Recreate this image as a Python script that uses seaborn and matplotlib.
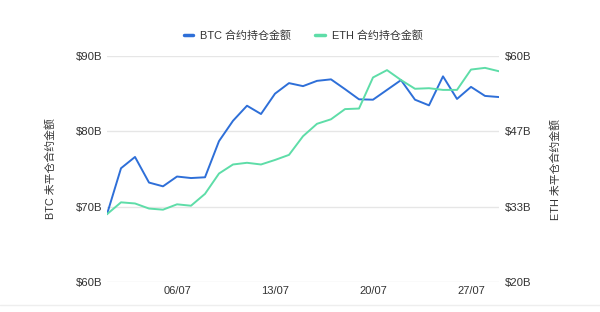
import matplotlib
matplotlib.use("Agg")
import matplotlib.pyplot as plt
import seaborn as sns
import pandas as pd
from matplotlib.lines import Line2D

dates = [f"{d:02d}/07" for d in range(1, 30)]
btc_oi = [69.0, 75.1, 76.6, 73.2, 72.7, 74.0, 73.8, 73.9, 78.7, 81.4,
          83.4, 82.3, 85.0, 86.4, 86.0, 86.7, 86.9, 85.6, 84.25, 84.2,
          85.5, 86.8, 84.2, 83.45, 87.3, 84.3, 85.9, 84.7, 84.55]
eth_oi = [32.0, 34.1, 33.9, 33.0, 32.8, 33.75, 33.5, 35.6, 39.2, 40.8,
          41.1, 40.8, 41.6, 42.5, 45.8, 48.0, 48.8, 50.6, 50.7, 56.2,
          57.5, 55.75, 54.2, 54.3, 54.0, 54.0, 57.6, 57.9, 57.3]
left_ticks = [60, 70, 80, 90]
right_ticks = [20, 33.333, 46.667, 60]
right_labels = ["$20B", "$33B", "$47B", "$60B"]
x_tick_labels = ["06/07", "13/07", "20/07", "27/07"]
btc_name = "BTC 合约持仓金额"
eth_name = "ETH 合约持仓金额"
left_label = "BTC 未平仓合约金额"
right_label = "ETH 未平仓合约金额"

BLUE = "#2E6FD8"
GREEN = "#5EDDA8"
TXT = "#333333"

sns.set_theme(style="white")
plt.rcParams["font.family"] = ["Liberation Sans", "Noto Sans CJK SC", "DejaVu Sans"]

df = pd.DataFrame({"idx": range(len(dates)), "date": dates, "btc": btc_oi, "eth": eth_oi})

fig = plt.figure(figsize=(6.0, 3.12), dpi=100)
ax = fig.add_axes([107/600, 1-282/312, (499-107)/600, (282-56)/312])
ax2 = ax.twinx()

sns.lineplot(data=df, x="idx", y="btc", ax=ax, color=BLUE, linewidth=1.4)
sns.lineplot(data=df, x="idx", y="eth", ax=ax2, color=GREEN, linewidth=1.4)

ax.set_xlim(0, len(dates) - 1)
ax.set_ylim(60, 90)
ax2.set_ylim(20, 60)
ax.set_yticks(left_ticks)
ax.set_yticklabels([f"${v}B" for v in left_ticks])
ax2.set_yticks(right_ticks)
ax2.set_yticklabels(right_labels)

pos = [dates.index(l) for l in x_tick_labels]
ax.set_xticks(pos)
ax.set_xticklabels(x_tick_labels)

ax.grid(axis="y", color="#E6E6E6", linewidth=1.0)
ax.set_axisbelow(True)
for a in (ax, ax2):
    for s in a.spines.values():
        s.set_visible(False)
    a.tick_params(length=0, labelsize=8.2, colors=TXT)
ax.tick_params(axis="y", pad=3.5)
ax2.tick_params(axis="y", pad=4.5)
ax.tick_params(axis="x", pad=3, labelsize=8)
ax.set_xlabel("")
ax.set_ylabel(left_label, fontsize=7.8, color=TXT, labelpad=14)
ax2.set_ylabel(right_label, fontsize=7.8, color=TXT, labelpad=13)
ax2.grid(False)

handles = [Line2D([0], [0], color=BLUE, lw=2.5), Line2D([0], [0], color=GREEN, lw=2.5)]
fig.legend(handles, [btc_name, eth_name], loc="center", bbox_to_anchor=(0.505, 1-35/312),
           ncol=2, frameon=False, fontsize=7.9, handlelength=0.9, handletextpad=0.6,
           columnspacing=2.2, labelcolor=TXT)

fig.add_artist(Line2D([0, 1], [1-305/312, 1-305/312], transform=fig.transFigure,
                      color="#EEEEEE", lw=1))

fig.savefig("out.png", dpi=100)
